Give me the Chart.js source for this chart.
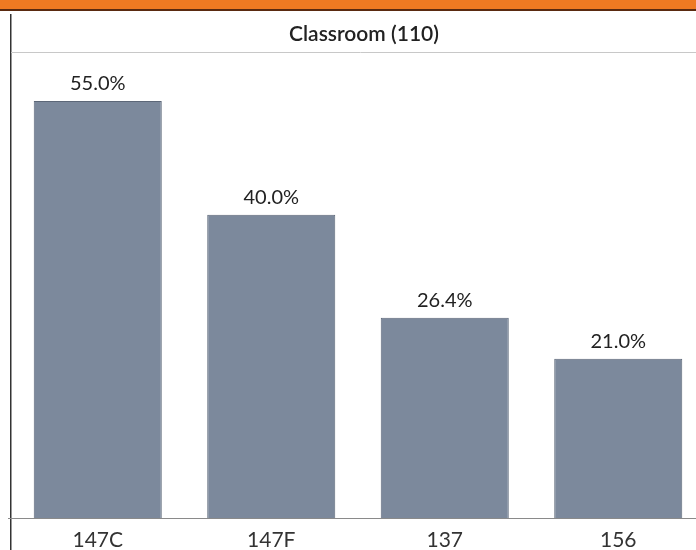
<!DOCTYPE html>
<html>
<head>
<meta charset="utf-8">
<script src="https://cdn.jsdelivr.net/npm/chart.js@4"></script>
<style>
  html, body { margin: 0; padding: 0; background: #fff; overflow: hidden; }
  #wrap { position: absolute; left: 0; top: 0; width: 710px; height: 560px; }
</style>
</head>
<body>
<div id="wrap"><canvas id="c"></canvas></div>
<script>
// Classroom (110) utilisation bars, with the frame of the original slide drawn by a plugin.
const rooms = ["147C", "147F", "137", "156"];
const utilisation = [55.0, 40.0, 26.4, 21.0];
const chartTitle = "Classroom (110)";

const FONT = "Lato, 'Noto Sans', sans-serif";

const framePlugin = {
  id: "frame",
  beforeDraw(chart) {
    const { ctx, width } = chart;
    ctx.save();
    // orange header band (cut off at top of the picture)
    ctx.fillStyle = "#f07a22";
    ctx.fillRect(0, 0, width, 10);
    ctx.fillStyle = "#5a2a10";
    ctx.fillRect(0, 9, width, 2);
    // left frame line
    ctx.fillStyle = "#333";
    ctx.fillRect(10, 14, 1.5, chart.height);
    // line under the title
    ctx.strokeStyle = "#c8c8c8";
    ctx.lineWidth = 1;
    ctx.beginPath();
    ctx.moveTo(11, 52.5);
    ctx.lineTo(width, 52.5);
    ctx.stroke();
    // title
    ctx.fillStyle = "#222";
    ctx.font = "600 21px " + FONT;
    ctx.textAlign = "center";
    ctx.textBaseline = "middle";
    ctx.fillText(chartTitle, 364, 34);
    ctx.restore();
  },
  afterDatasetsDraw(chart) {
    const { ctx, chartArea } = chart;
    ctx.save();
    // baseline
    ctx.strokeStyle = "#8a8a8a";
    ctx.lineWidth = 1;
    ctx.beginPath();
    ctx.moveTo(8, chartArea.bottom + 0.5);
    ctx.lineTo(chart.width, chartArea.bottom + 0.5);
    ctx.stroke();
    // value labels
    ctx.fillStyle = "#222";
    ctx.font = "20px " + FONT;
    ctx.textAlign = "center";
    ctx.textBaseline = "middle";
    chart.getDatasetMeta(0).data.forEach((bar, i) => {
      ctx.fillText(utilisation[i].toFixed(1) + "%", bar.x, bar.y - 17);
    });
    ctx.restore();
  }
};

new Chart(document.getElementById("c").getContext("2d"), {
  type: "bar",
  data: {
    labels: rooms,
    datasets: [{
      data: utilisation,
      backgroundColor: "#7c899c",
      borderColor: "#5c6778",
      borderWidth: 1,
      categoryPercentage: 1,
      barPercentage: 0.738,
    }],
  },
  options: {
    responsive: true,
    maintainAspectRatio: false,
    animation: false,
    devicePixelRatio: 1,
    layout: { padding: { left: 11, right: 5, top: 63, bottom: 0 } },
    scales: {
      x: {
        grid: { display: false, drawTicks: false },
        border: { display: false },
        ticks: { color: "#333", font: { family: FONT, size: 21 }, padding: 10 },
        afterFit(scale) { scale.height = 42; },
      },
      y: {
        display: false,
        min: 0, max: 60,
      },
    },
    plugins: {
      legend: { display: false },
      tooltip: { enabled: false },
      title: { display: false },
    },
  },
  plugins: [framePlugin],
});
</script>
</body>
</html>
